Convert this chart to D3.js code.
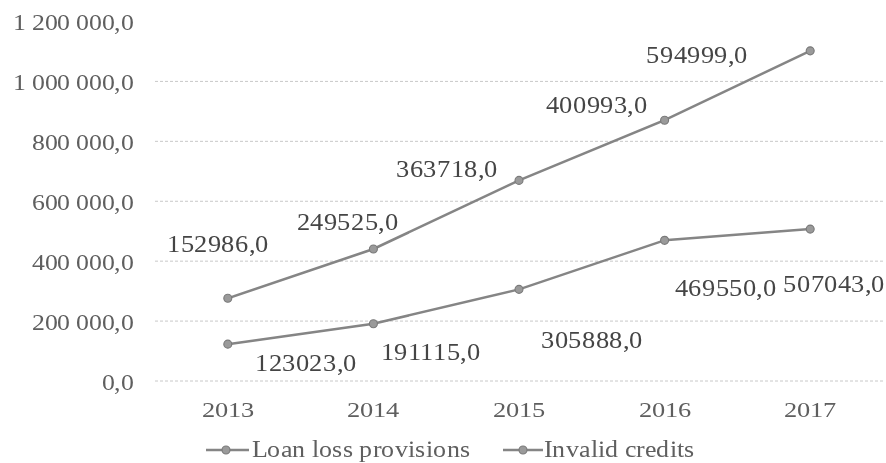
<!DOCTYPE html>
<html>
<head>
<meta charset="utf-8">
<script src="https://cdn.jsdelivr.net/npm/d3@7/dist/d3.min.js"></script>
<style>
  @font-face {
    font-family: "ChartSerif";
    src: local("Liberation Serif"), local("LiberationSerif"), local("LiberationSerif-Regular"),
         local("Times New Roman"), local("DejaVu Serif"), local("DejaVuSerif");
  }
  html, body { margin: 0; padding: 0; background: #fff; }
  svg { display: block; }
</style>
</head>
<body>
<svg id="chart" width="886" height="463"></svg>
<script>
// Years on the category axis
const years = ["2013", "2014", "2015", "2016", "2017"];
// Series values (stacked: invalid credits sit on top of loan loss provisions)
const loanLossProvisions = [123023, 191115, 305888, 469550, 507043];
const invalidCredits = [152986, 249525, 363718, 400993, 594999];
// Value-axis ticks
const yTicks = [0, 200000, 400000, 600000, 800000, 1000000, 1200000];
const seriesNames = ["Loan loss provisions", "Invalid credits"];

// Hand-placed label offsets (px) from each point: [dx, dy-to-baseline]
const lowerLabelOffsets = [[78, 27], [57, 36], [73, 59], [61, 56], [24, 63]];
const upperLabelOffsets = [[-10, -46], [-26, -19], [-72, -3], [-68, -7], [-113, 12]];

const FONT = "ChartSerif, 'Liberation Serif', 'DejaVu Serif', serif";

const svg = d3.select("#chart").style("font-family", FONT);
const plot = { left: 155, right: 883, top: 21.5, bottom: 381 };

// Soft rendering of the whole figure
svg.append("defs").append("filter").attr("id", "soft")
  .append("feGaussianBlur").attr("stdDeviation", 0.3);
const root = svg.append("g").attr("filter", "url(#soft)");

const x = d3.scaleBand().domain(years).range([plot.left, plot.right]).padding(0);
const cx = d => x(d) + x.bandwidth() / 2;
const y = d3.scaleLinear().domain([0, 1200000]).range([plot.bottom, plot.top]);

const locale = d3.formatLocale({ decimal: ",", thousands: " ", grouping: [3], currency: ["", ""] });
const fmtAxis = locale.format(",.1f");
const fmtLabel = d => d3.format("d")(d) + ",0";

const lineColor = "#858585";
const textColor = "#5e5e5e";

// Dotted gridlines (none at the top tick)
root.append("g")
  .selectAll("line")
  .data(yTicks.filter(t => t < 1200000))
  .join("line")
  .attr("x1", plot.left).attr("x2", plot.right)
  .attr("y1", d => y(d)).attr("y2", d => y(d))
  .attr("stroke", "#c8c8c8")
  .attr("stroke-width", 1)
  .attr("stroke-dasharray", "3,2");

// Value axis labels
const yAxis = root.append("g")
  .attr("transform", `translate(${plot.left},0)`)
  .call(d3.axisLeft(y).tickValues(yTicks).tickFormat(fmtAxis).tickSize(0).tickPadding(19.5));
yAxis.attr("font-family", null).style("font-family", FONT);
yAxis.select(".domain").remove();
yAxis.selectAll("text")
  .style("font-family", FONT)
  .style("white-space", "pre")
  .attr("fill", textColor)
  .attr("font-size", 23)
  .attr("dy", "0.36em")
  .attr("transform", "scale(1.12,1)");

// Category axis labels
const xAxis = root.append("g")
  .attr("transform", `translate(0,${plot.bottom})`)
  .call(d3.axisBottom(x).tickSize(0).tickPadding(20));
xAxis.attr("font-family", null).style("font-family", FONT);
xAxis.select(".domain").remove();
xAxis.selectAll("text")
  .style("font-family", FONT)
  .attr("fill", textColor)
  .attr("font-size", 22)
  .attr("transform", "scale(1.2,1)");

// Stacked series
const lower = years.map((yr, i) => ({ year: yr, value: loanLossProvisions[i], top: loanLossProvisions[i] }));
const upper = years.map((yr, i) => ({ year: yr, value: invalidCredits[i], top: loanLossProvisions[i] + invalidCredits[i] }));

const line = d3.line().x(d => cx(d.year)).y(d => y(d.top));

function drawSeries(data, offsets) {
  const g = root.append("g");
  g.append("path")
    .datum(data)
    .attr("d", line)
    .attr("fill", "none")
    .attr("stroke", lineColor)
    .attr("stroke-width", 2.5);
  g.selectAll("circle")
    .data(data)
    .join("circle")
    .attr("cx", d => cx(d.year))
    .attr("cy", d => y(d.top))
    .attr("r", 4)
    .attr("fill", "#9a9a9a")
    .attr("stroke", "#7a7a7a")
    .attr("stroke-width", 1.1);
  g.selectAll("text")
    .data(data)
    .join("text")
    .attr("transform", (d, i) => `translate(${cx(d.year) + offsets[i][0]},${y(d.top) + offsets[i][1]}) scale(1.1,1)`)
    .attr("text-anchor", "middle")
    .style("font-family", FONT)
    .attr("font-size", 24)
    .attr("fill", "#454545")
    .text(d => fmtLabel(d.value));
}
drawSeries(lower, lowerLabelOffsets);
drawSeries(upper, upperLabelOffsets);

// Legend
const legendItems = [
  { name: seriesNames[0], x0: 206, x1: 249, cx: 226, tx: 251.5 },
  { name: seriesNames[1], x0: 503, x1: 543, cx: 523, tx: 544 }
];
const lg = root.append("g");
const legendY = 450;
legendItems.forEach(it => {
  lg.append("line")
    .attr("x1", it.x0).attr("x2", it.x1)
    .attr("y1", legendY).attr("y2", legendY)
    .attr("stroke", lineColor).attr("stroke-width", 2.5);
  lg.append("circle")
    .attr("cx", it.cx).attr("cy", legendY).attr("r", 4)
    .attr("fill", "#9a9a9a").attr("stroke", "#7a7a7a").attr("stroke-width", 1.1);
  lg.append("text")
    .attr("transform", `translate(${it.tx},457) scale(1.08,1)`)
    .style("font-family", FONT)
    .attr("font-size", 24)
    .attr("fill", textColor)
    .text(it.name);
});
</script>
</body>
</html>
